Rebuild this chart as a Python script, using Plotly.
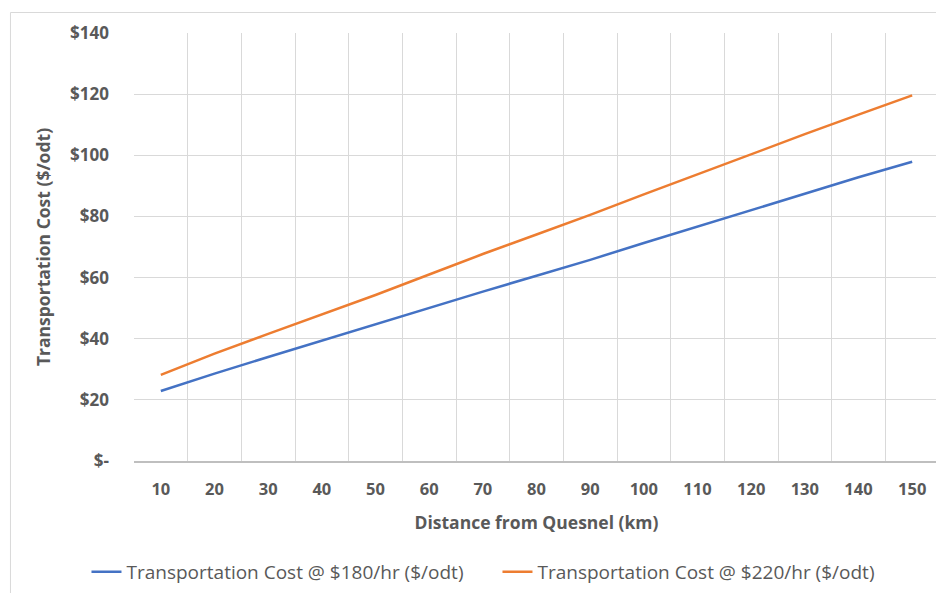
import plotly.graph_objects as go

distance_km = [10, 20, 30, 40, 50, 60, 70, 80, 90, 100, 110, 120, 130, 140, 150]
cost_180 = [22.9, 28.6, 34.0, 39.4, 44.7, 50.0, 55.4, 60.6, 65.8, 71.3, 76.7, 82.1, 87.4, 92.8, 97.9]
cost_220 = [28.2, 35.1, 41.6, 47.9, 54.3, 61.0, 67.7, 74.1, 80.5, 87.2, 93.8, 100.3, 106.9, 113.3, 119.6]
y_ticks = [0, 20, 40, 60, 80, 100, 120, 140]
y_tick_labels = ["$-", "$20", "$40", "$60", "$80", "$100", "$120", "$140"]

# page body has an 8px margin: build the figure in screen coords minus 8
OFF = 8
W, H = 944 - OFF, 593 - OFF
PL, PR, PT, PB = 134 - OFF, 938.7 - OFF, 33 - OFF, 461 - OFF   # plot area (canvas px)
ML, MR, MT, MB = PL, W - PR, PT, H - PB
PW, PH = PR - PL, PB - PT

def px(x):
    return (x - OFF - PL) / PW

def py(y):
    return (PB - (y - OFF)) / PH

FONT = "Open Sans"
GRAY = "#595959"

fig = go.Figure()
fig.add_trace(go.Scatter(
    x=[str(d) for d in distance_km], y=cost_180, mode="lines",
    name="Transportation Cost @ $180/hr ($/odt)",
    line=dict(color="#4472C4", width=2.5)))
fig.add_trace(go.Scatter(
    x=[str(d) for d in distance_km], y=cost_220, mode="lines",
    name="Transportation Cost @ $220/hr ($/odt)",
    line=dict(color="#ED7D31", width=2.5)))

fig.update_layout(
    width=W, height=H,
    margin=dict(l=ML, r=MR, t=MT, b=MB, autoexpand=False),
    paper_bgcolor="white", plot_bgcolor="white",
    font=dict(family=FONT, color=GRAY, size=16),
    showlegend=True,
    legend=dict(orientation="h", x=px(86.5), xanchor="left",
                y=py(572), yanchor="middle",
                font=dict(family=FONT, size=19, color=GRAY),
                itemwidth=30, tracegroupgap=0, entrywidth=366),
    xaxis=dict(
        type="category", range=[-0.5, len(distance_km) - 0.5],
        tickson="boundaries", showgrid=True, gridcolor="#d9d9d9", gridwidth=1,
        showline=True, linecolor="#bfbfbf", linewidth=1.5,
        ticks="", ticklabelstandoff=12, automargin=False,
        tickfont=dict(family=FONT, size=16.5, color=GRAY, weight="bold"),
        title=dict(text="Distance from Quesnel (km)", standoff=18,
                   font=dict(family=FONT, size=17.5, color=GRAY, weight="bold")),
        zeroline=False, fixedrange=True),
    yaxis=dict(
        range=[0, 140], tickvals=y_ticks, ticktext=y_tick_labels,
        showgrid=True, gridcolor="#d9d9d9", gridwidth=1,
        showline=False, ticks="", ticklabelstandoff=24, automargin=False,
        tickfont=dict(family=FONT, size=17, color=GRAY, weight="bold"),
        title=dict(text="Transportation Cost ($/odt)", standoff=14,
                   font=dict(family=FONT, size=17.5, color=GRAY, weight="bold")),
        zeroline=False, fixedrange=True),
    shapes=[dict(type="rect", xref="paper", yref="paper",
                 x0=px(10.5), x1=1.2, y0=-0.5, y1=py(12.5),
                 line=dict(color="#d9d9d9", width=1), fillcolor="rgba(0,0,0,0)",
                 layer="below")],
)

fig.write_html("out.html")
